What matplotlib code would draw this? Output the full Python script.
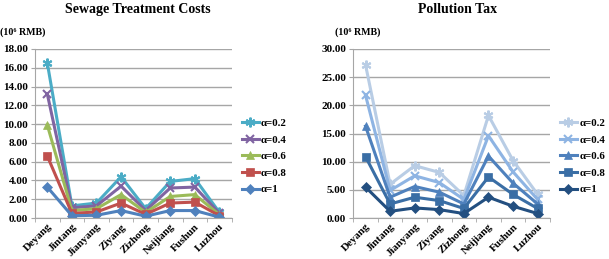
import matplotlib.pyplot as plt

# cities along the x axis
cities = ['Deyang', 'Jintang', 'Jianyang', 'Ziyang', 'Zizhong', 'Neijiang', 'Fushun', 'Luzhou']
alphas = ['α=0.2', 'α=0.4', 'α=0.6', 'α=0.8', 'α=1']

# sewage treatment costs (10^6 RMB)
sew_02 = [16.5, 1.3, 1.6, 4.4, 1.0, 3.9, 4.2, 0.6]
sew_04 = [13.2, 1.1, 1.3, 3.4, 0.8, 3.2, 3.3, 0.5]
sew_06 = [9.9, 0.8, 1.0, 2.5, 0.6, 2.3, 2.5, 0.35]
sew_08 = [6.6, 0.5, 0.65, 1.6, 0.4, 1.6, 1.7, 0.25]
sew_10 = [3.3, 0.25, 0.3, 0.8, 0.2, 0.8, 0.8, 0.1]

# pollution tax (10^6 RMB)
tax_02 = [27.2, 6.0, 9.3, 8.1, 4.0, 18.2, 10.2, 4.2]
tax_04 = [21.8, 4.9, 7.5, 6.3, 3.3, 14.6, 8.2, 3.3]
tax_06 = [16.3, 3.7, 5.6, 4.6, 2.5, 11.0, 6.2, 2.5]
tax_08 = [10.9, 2.5, 3.7, 3.1, 1.7, 7.3, 4.2, 1.7]
tax_10 = [5.5, 1.2, 1.8, 1.5, 0.8, 3.7, 2.1, 0.8]

markers = [(6, 2, 0), 'x', '^', 's', 'D']
msizes = [7, 6, 6, 6, 5]
sew_colors = ['#4BACC6', '#8064A2', '#9BBB59', '#C0504D', '#4F81BD']
tax_colors = ['#B9CDE5', '#8EB4E3', '#4F81BD', '#3A6EA5', '#234F80']

plt.rcParams['font.family'] = ['Liberation Serif', 'DejaVu Serif']
plt.rcParams['font.weight'] = 'bold'

fig = plt.figure(figsize=(6.09, 2.59), dpi=100)
ax1 = fig.add_axes([0.0575, 0.158, 0.323, 0.653])
ax2 = fig.add_axes([0.58, 0.158, 0.323, 0.653])


def draw(ax, series, colors, ymax, ystep, title, tx):
    x = range(len(cities))
    for vals, c, m, ms, lab in zip(series, colors, markers, msizes, alphas):
        ax.plot(x, vals, color=c, marker=m, markersize=ms, lw=2.2, label=lab,
                markeredgewidth=1.5 if m in ('x', (6, 2, 0)) else 0.5)
    ax.set_xlim(-0.5, len(cities) - 0.5)
    ax.set_ylim(0, ymax)
    ticks = [i * ystep for i in range(int(ymax / ystep) + 1)]
    ax.set_yticks(ticks)
    ax.set_yticklabels(['%.2f' % t for t in ticks], fontsize=8, fontweight='bold')
    ax.set_xticks(list(x))
    ax.set_xticklabels(cities, rotation=45, ha='right', rotation_mode='anchor',
                       fontsize=7.8, fontweight='bold')
    # small marks between categories, as in a spreadsheet chart
    ax.set_xticks([i - 0.5 for i in range(len(cities) + 1)], minor=True)
    ax.grid(axis='y', color='#A6A6A6', lw=1)
    ax.set_axisbelow(True)
    for s in ('top', 'right'):
        ax.spines[s].set_visible(False)
    for s in ('left', 'bottom'):
        ax.spines[s].set_color('#A6A6A6')
    ax.tick_params(axis='y', length=3, color='#A6A6A6', pad=2)
    ax.tick_params(axis='x', which='major', length=0, pad=3)
    ax.tick_params(axis='x', which='minor', length=3, color='#A6A6A6')
    ax.legend(loc='upper left', bbox_to_anchor=(1.05, 0.59), frameon=False,
              fontsize=7.8, handlelength=1.6, handletextpad=0.2, labelspacing=0.65,
              borderaxespad=0, borderpad=0)
    fig.text(tx, 0.99, title, ha='center', va='top', fontsize=10, fontweight='bold')


draw(ax1, [sew_02, sew_04, sew_06, sew_08, sew_10], sew_colors, 18, 2,
     'Sewage Treatment Costs', 0.227)
draw(ax2, [tax_02, tax_04, tax_06, tax_08, tax_10], tax_colors, 30, 5,
     'Pollution Tax', 0.752)

fig.text(0.0, 0.875, '(10⁶ RMB)', fontsize=7.2, fontweight='bold', va='center')
fig.text(0.55, 0.875, '(10⁶ RMB)', fontsize=7.2, fontweight='bold', va='center')

fig.savefig('out.png', dpi=100)
